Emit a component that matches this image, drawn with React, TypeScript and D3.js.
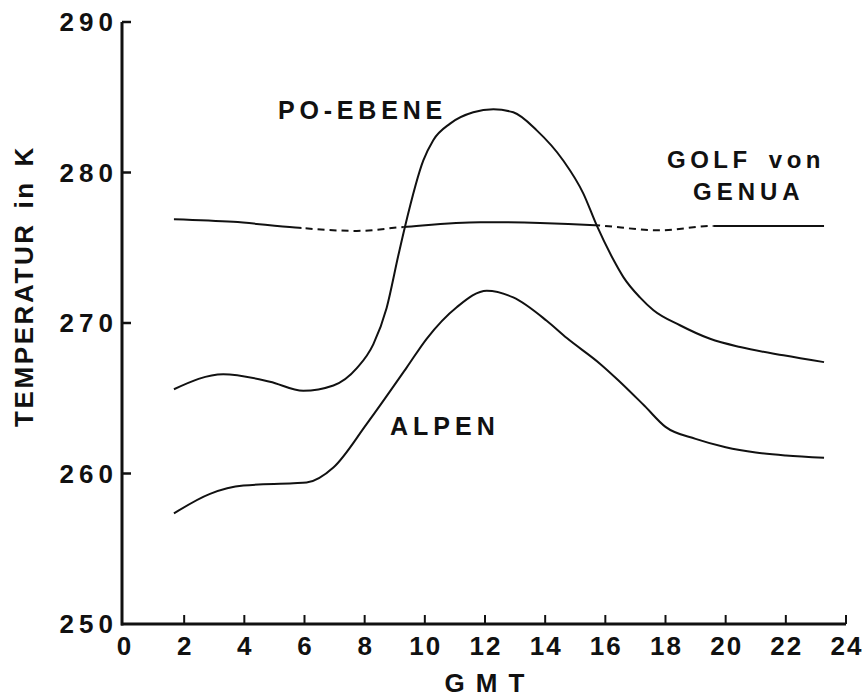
import React from 'react'
import * as d3 from 'd3'

// Po-Ebene (Po valley)
const poHours = [1.66, 3.3, 4.85, 5.96, 6.96, 7.74, 8.29, 8.73, 9.12, 9.34, 9.95, 10.28, 10.84, 11.61, 12.28, 12.94, 13.72, 14.6, 15.27, 15.71, 16.27, 16.6, 17.15, 17.6, 18.48, 19.48, 20.48, 21.92, 23.27]
const poTemps = [265.6, 266.6, 266.1, 265.5, 265.85, 267.0, 268.6, 271.0, 274.5, 276.4, 280.8, 282.15, 283.25, 284.0, 284.2, 284.0, 282.8, 280.8, 278.6, 276.5, 274.2, 273.05, 271.7, 270.85, 269.85, 268.95, 268.4, 267.85, 267.4]

// Alpen
const alpHours = [1.66, 2.86, 3.97, 5.63, 6.07, 6.96, 8.07, 9.4, 10.06, 11.06, 12.06, 12.94, 14.05, 14.72, 15.82, 16.43, 17.3, 18.0, 19.0, 20.0, 21.0, 22.0, 23.27]
const alpTemps = [257.35, 258.65, 259.2, 259.35, 259.4, 260.4, 263.3, 267.05, 268.95, 271.05, 272.15, 271.7, 270.15, 269.0, 267.3, 266.2, 264.5, 263.1, 262.3, 261.75, 261.4, 261.2, 261.05]

// Golf von Genua
const golfHours = [1.66, 3.63, 5.69, 7.74, 9.29, 11.84, 13.83, 15.66, 17.8, 19.59, 23.27]
const golfTemps = [276.9, 276.72, 276.34, 276.12, 276.38, 276.7, 276.65, 276.5, 276.16, 276.45, 276.45]
const golfSolid = [[1.6, 5.9], [9.3, 15.7], [19.6, 23.4]]
const golfDashed = [[5.9, 9.3], [15.7, 19.6]]

const xTicks = [0, 2, 4, 6, 8, 10, 12, 14, 16, 18, 20, 22, 24]
const yTicks = [250, 260, 270, 280, 290]

const font = '"Liberation Sans", Arial, sans-serif'

const App = () => {
    const x = d3.scaleLinear().domain([0, 24]).range([124, 846])
    const y = d3.scaleLinear().domain([250, 290]).range([624, 22])

    const line = d3
          .line<[number, number]>()
          .x(d => x(d[0]))
          .y(d => y(d[1]))
          .curve(d3.curveMonotoneX)

    const poPath = line(poHours.map((h, i) => [h, poTemps[i]]))
    const alpPath = line(alpHours.map((h, i) => [h, alpTemps[i]]))
    const golfPath = line(golfHours.map((h, i) => [h, golfTemps[i]]))

    const tickStyle = { fontFamily: font, fontWeight: 700, fontSize: 26, fill: '#111' }

    return (
        <svg width={865} height={698} style={{ position: 'absolute', left: 0, top: 0, background: '#fff' }}>
            <defs>
                <clipPath id="solidClip">
                    {golfSolid.map((r, i) => (
                        <rect key={i} x={x(r[0])} y={0} width={x(r[1]) - x(r[0])} height={698} />
                    ))}
                </clipPath>
                <clipPath id="dashClip">
                    {golfDashed.map((r, i) => (
                        <rect key={i} x={x(r[0])} y={0} width={x(r[1]) - x(r[0])} height={698} />
                    ))}
                </clipPath>
            </defs>

            {/* axes */}
            <line x1={122} x2={122} y1={y(290)} y2={y(250) + 1.5} stroke="#111" strokeWidth={3} />
            <line x1={121} x2={x(24)} y1={y(250)} y2={y(250)} stroke="#111" strokeWidth={3} />
            {yTicks.slice(1).map(t => (
                <line key={t} x1={122} x2={131} y1={y(t)} y2={y(t)} stroke="#111" strokeWidth={2.5} />
            ))}
            {xTicks.slice(1).map(t => (
                <line key={t} x1={x(t)} x2={x(t)} y1={y(250)} y2={y(250) - 9} stroke="#111" strokeWidth={2} />
            ))}
            {yTicks.map(t => (
                <text key={t} x={118} y={y(t)} textAnchor="end" dominantBaseline="central"
                      letterSpacing={5} style={tickStyle}>{t}</text>
            ))}
            {xTicks.map(t => (
                <text key={t} x={x(t) + 1} y={655} textAnchor="middle"
                      letterSpacing={2} style={tickStyle}>{t}</text>
            ))}

            <text x={490} y={692} textAnchor="middle" letterSpacing={11} style={tickStyle}>GMT</text>
            <text transform="translate(33,286) rotate(-90)" textAnchor="middle" letterSpacing={2.6}
                  wordSpacing={4} style={tickStyle}>TEMPERATUR in K</text>

            {/* curves */}
            <path d={poPath} fill="none" stroke="#111" strokeWidth={2} />
            <path d={alpPath} fill="none" stroke="#111" strokeWidth={2} />
            <path d={golfPath} fill="none" stroke="#111" strokeWidth={2} clipPath="url(#solidClip)" />
            <path d={golfPath} fill="none" stroke="#111" strokeWidth={2} strokeDasharray="7,5"
                  clipPath="url(#dashClip)" />

            {/* labels */}
            <text x={278} y={119} letterSpacing={4.8} style={{ ...tickStyle, fontSize: 25 }}>PO-EBENE</text>
            <text x={390} y={435} letterSpacing={5} style={{ ...tickStyle, fontSize: 25 }}>ALPEN</text>
            <text x={667} y={168} letterSpacing={4.5} wordSpacing={6} style={{ ...tickStyle, fontSize: 24 }}>GOLF von</text>
            <text x={693} y={200} letterSpacing={5} style={{ ...tickStyle, fontSize: 24 }}>GENUA</text>
        </svg>
    )
}

export default App
